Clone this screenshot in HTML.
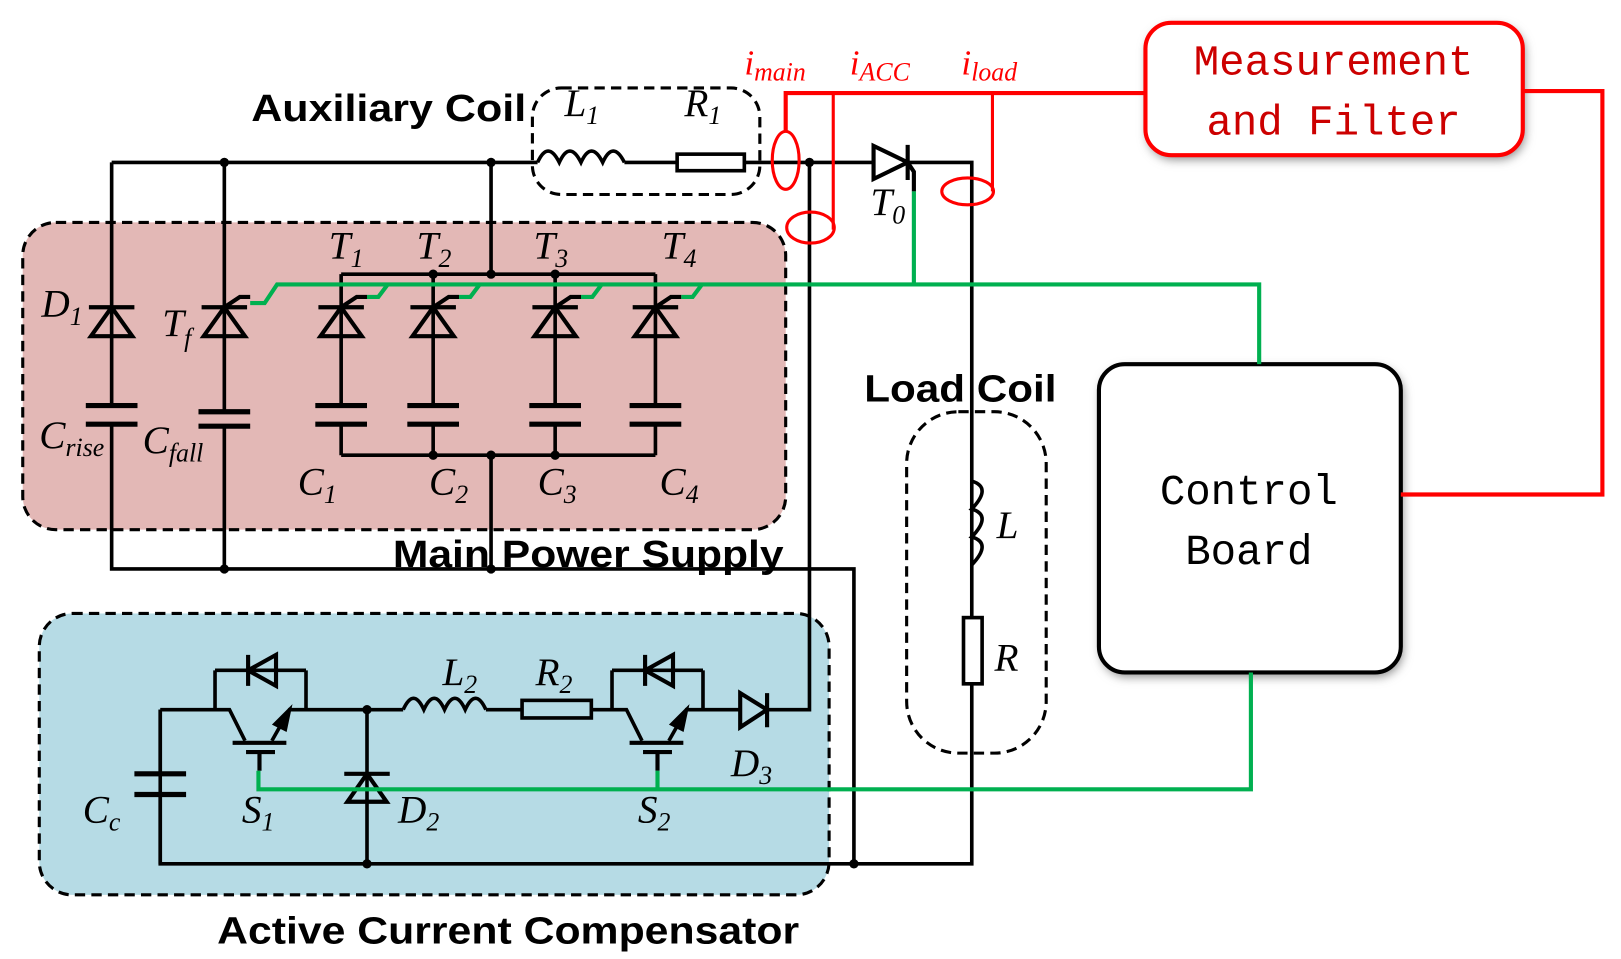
<!DOCTYPE html>
<html><head><meta charset="utf-8"><style>
html,body{margin:0;padding:0;background:#fff;width:1621px;height:959px;overflow:hidden}
svg{display:block}
.w{stroke:#000;stroke-width:3.5;fill:none}
.lab{font-family:"Liberation Serif",serif;font-style:italic;font-size:38px;fill:#000}
.sub{font-size:25px}
.bold{font-family:"Liberation Sans",sans-serif;font-weight:bold;font-size:37px;fill:#000}
.mono{font-family:"Liberation Mono",monospace;font-size:41px}
</style></head><body>
<svg width="1621" height="959" viewBox="0 0 1568 927" preserveAspectRatio="none" xmlns="http://www.w3.org/2000/svg">
<defs>
<filter id="sh" x="-10%" y="-10%" width="120%" height="120%"><feGaussianBlur stdDeviation="5"/></filter>
</defs>
<rect x="22" y="215" width="738" height="297" rx="32" fill="#e3b8b6" stroke="#000" stroke-width="3" stroke-dasharray="10,6"/>
<rect x="38" y="593" width="764" height="272" rx="32" fill="#b6dbe5" stroke="#000" stroke-width="3" stroke-dasharray="10,6"/>
<rect x="515" y="85" width="220" height="103" rx="28" fill="none" stroke="#000" stroke-width="3" stroke-dasharray="10,6"/>
<rect x="877" y="398" width="135" height="330" rx="50" fill="none" stroke="#000" stroke-width="3" stroke-dasharray="10,6"/>

<rect x="1110" y="26" width="365" height="128" rx="25" fill="#888" filter="url(#sh)"/>
<rect x="1108" y="22" width="365" height="128" rx="25" fill="#fff" stroke="#f00" stroke-width="4"/>
<text class="mono" x="1290" y="72" text-anchor="middle" fill="#c00">Measurement</text>
<text class="mono" x="1290" y="130" text-anchor="middle" fill="#c00">and Filter</text>
<rect x="1065" y="356" width="292" height="298" rx="25" fill="#888" filter="url(#sh)"/>
<rect x="1063" y="352" width="292" height="298" rx="25" fill="#fff" stroke="#000" stroke-width="4"/>
<text class="mono" x="1208" y="487" text-anchor="middle" fill="#000">Control</text>
<text class="mono" x="1208" y="545" text-anchor="middle" fill="#000">Board</text>

<g class="w">
<path d="M108 157 H520 M604 157 H655 M720 157 H845 M878 157 H940 V835 H155 V686"/>
<path d="M520 157 q10 -22 21 0 q10 -22 21 0 q10 -22 21 0 q10 -22 21 0"/>
<rect x="655" y="149" width="65" height="16"/>
<path d="M108 157 V392 M108 410 V550 H826 V835"/>
<path d="M217 157 V398 M217 412 V550"/>
<path d="M475 157 V265 M475 440 V550"/>
<path d="M330 265 H634 M330 440 H634"/>
<path d="M330 265 V392 M330 410 V440 M419 265 V392 M419 410 V440 M537 265 V392 M537 410 V440 M634 265 V392 M634 410 V440"/>
<path d="M783 157 V686 H742"/>
<path stroke-width="5" d="M83 392 H133 M83 410 H133 M192 398 H242 M192 412 H242 M305 392 H355 M305 410 H355 M394 392 H444 M394 410 H444 M512 392 H562 M512 410 H562 M609 392 H659 M609 410 H659"/>
<path stroke-width="4" d="M86 297 H130 M108 297 L88 325 H128 Z"/>
<path stroke-width="4" d="M195 297 H239 M217 297 L197 325 H237 Z M217 297 L232 287 H242"/>
<path stroke-width="4" d="M308 297 H352 M330 297 L310 325 H350 Z M330 297 L345 287 H355"/>
<path stroke-width="4" d="M397 297 H441 M419 297 L399 325 H439 Z M419 297 L434 287 H444"/>
<path stroke-width="4" d="M515 297 H559 M537 297 L517 325 H557 Z M537 297 L552 287 H562"/>
<path stroke-width="4" d="M612 297 H656 M634 297 L614 325 H654 Z M634 297 L649 287 H659"/>
<path stroke-width="4" d="M845 141 V173 L878 157 Z M878 140 V174 M878 157 L884 166 V185"/>
<path d="M940 465 q20 6 0 27 q20 6 0 27 q20 6 0 27"/>
<rect x="932" y="597" width="18" height="64" fill="#fff"/>
<path d="M155 686 V748 M155 768 V835"/>
<path stroke-width="5" d="M130 748 H180 M130 768 H180"/>
<path d="M155 686 H208 M208 648 V686 H222 L237 716 M296 648 V686 H280 L263 716 M208 648 H296"/>
<path stroke-width="4" d="M267 633 V663 L240 648 Z M240 633 V663 M225 718 H277 M238 727 H266 M251 727 V745"/>
<path fill="#000" d="M280 686 L266 700 L276 705 Z"/>
<path d="M296 686 H390 M470 686 H505 M572 686 H592"/>
<path d="M390 686 q10 -22 20 0 q10 -22 20 0 q10 -22 20 0 q10 -22 20 0"/>
<rect x="505" y="677" width="67" height="17"/>
<path d="M592 648 V686 H606 L621 716 M680 648 V686 H664 L647 716 M592 648 H680 M680 686 H716"/>
<path stroke-width="4" d="M651 633 V663 L624 648 Z M624 633 V663 M609 718 H661 M622 727 H650 M636 727 V745"/>
<path fill="#000" d="M664 686 L650 700 L660 705 Z"/>
<path stroke-width="4" d="M716 670 V703 L742 686 Z M742 670 V703"/>
<path d="M355 686 V835"/>
<path stroke-width="4" d="M333 748 H377 M355 748 L336 775 H374 Z"/>
</g>
<g fill="#000">
<circle cx="217" cy="157" r="4.5"/><circle cx="475" cy="157" r="4.5"/><circle cx="783" cy="157" r="4.5"/>
<circle cx="419" cy="265" r="4.5"/><circle cx="475" cy="265" r="4.5"/><circle cx="537" cy="265" r="4.5"/>
<circle cx="419" cy="440" r="4.5"/><circle cx="475" cy="440" r="4.5"/><circle cx="537" cy="440" r="4.5"/>
<circle cx="217" cy="550" r="4.5"/><circle cx="475" cy="550" r="4.5"/>
<circle cx="355" cy="686" r="4.5"/><circle cx="355" cy="835" r="4.5"/><circle cx="826" cy="835" r="4.5"/>
</g>
<g stroke="#00b050" stroke-width="4" fill="none">
<path d="M242 293 H256 L268 275 H1218 V352"/>
<path d="M355 287 H366 L375 275 M444 287 H455 L464 275 M562 287 H573 L582 275 M659 287 H670 L679 275"/>
<path d="M884 185 V275"/>
<path d="M1210 650 V763 H250 V745 M636 745 V763"/>
</g>
<g stroke="#f00" stroke-width="4" fill="none">
<path d="M760 128 V90 H1108 M1473 88 H1550 V478 H1355"/>
<path stroke-width="3" d="M806 90 V222 M960 90 V185"/>
<ellipse cx="760" cy="155" rx="13" ry="28" stroke-width="3"/>
<ellipse cx="784" cy="220" rx="23" ry="15" stroke-width="3"/>
<ellipse cx="936" cy="185" rx="25" ry="13" stroke-width="3"/>
</g>
<text class="bold" x="243" y="117" textLength="266" lengthAdjust="spacingAndGlyphs">Auxiliary Coil</text>
<text class="bold" x="380" y="548" textLength="378" lengthAdjust="spacingAndGlyphs">Main Power Supply</text>
<text class="bold" x="836" y="388" textLength="186" lengthAdjust="spacingAndGlyphs">Load Coil</text>
<text class="bold" x="210" y="912" textLength="563" lengthAdjust="spacingAndGlyphs">Active Current Compensator</text>
<g class="lab">
<text x="546" y="112">L<tspan class="sub" dy="8">1</tspan></text>
<text x="662" y="112">R<tspan class="sub" dy="8">1</tspan></text>
<text x="40" y="306">D<tspan class="sub" dy="8">1</tspan></text>
<text x="157" y="325">T<tspan class="sub" dy="10">f</tspan></text>
<text x="38" y="433">C<tspan class="sub" dy="8">rise</tspan></text>
<text x="138" y="438">C<tspan class="sub" dy="8">fall</tspan></text>
<text x="318" y="250">T<tspan class="sub" dy="8">1</tspan></text>
<text x="403" y="250">T<tspan class="sub" dy="8">2</tspan></text>
<text x="516" y="250">T<tspan class="sub" dy="8">3</tspan></text>
<text x="640" y="250">T<tspan class="sub" dy="8">4</tspan></text>
<text x="288" y="478">C<tspan class="sub" dy="8">1</tspan></text>
<text x="415" y="478">C<tspan class="sub" dy="8">2</tspan></text>
<text x="520" y="478">C<tspan class="sub" dy="8">3</tspan></text>
<text x="638" y="478">C<tspan class="sub" dy="8">4</tspan></text>
<text x="842" y="208">T<tspan class="sub" dy="8">0</tspan></text>
<text x="964" y="520">L</text>
<text x="962" y="648">R</text>
<text x="428" y="662">L<tspan class="sub" dy="8">2</tspan></text>
<text x="518" y="662">R<tspan class="sub" dy="8">2</tspan></text>
<text x="80" y="795">C<tspan class="sub" dy="8">c</tspan></text>
<text x="234" y="795">S<tspan class="sub" dy="8">1</tspan></text>
<text x="617" y="795">S<tspan class="sub" dy="8">2</tspan></text>
<text x="385" y="795">D<tspan class="sub" dy="8">2</tspan></text>
<text x="707" y="750">D<tspan class="sub" dy="8">3</tspan></text>
</g>
<g class="lab" style="fill:#f00;font-size:34px">
<text x="720" y="72">i<tspan class="sub" dy="6">main</tspan></text>
<text x="822" y="72">i<tspan class="sub" dy="6">ACC</tspan></text>
<text x="930" y="72">i<tspan class="sub" dy="6">load</tspan></text>
</g>
</svg>
</body></html>
